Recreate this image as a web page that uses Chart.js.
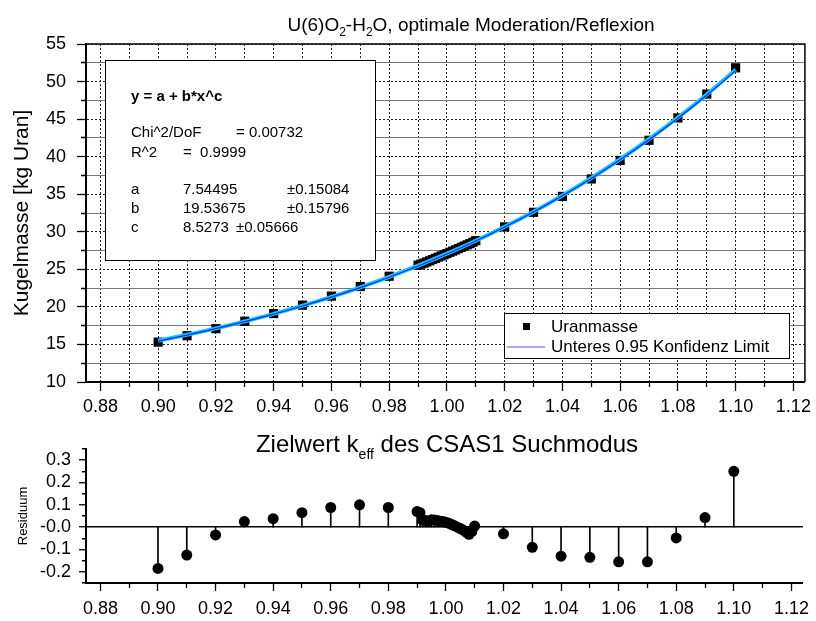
<!DOCTYPE html>
<html>
<head>
<meta charset="utf-8">
<script src="https://cdn.jsdelivr.net/npm/chart.js@4.4.0/dist/chart.umd.min.js"></script>
<style>
  html, body { margin: 0; padding: 0; background: #fff; }
  #wrap { position: relative; width: 816px; height: 621px; overflow: hidden; }
  #massChart { position: absolute; left: 0; top: 0; }
  #residChart { position: absolute; left: 0; top: 415px; }
</style>
</head>
<body>
<div id="wrap">
  <canvas id="massChart" width="816" height="415"></canvas>
  <canvas id="residChart" width="816" height="206"></canvas>
</div>
<script>
// k_eff target values of the CSAS1 search mode
const kEff = [0.90, 0.91, 0.92, 0.93, 0.94, 0.95, 0.96, 0.97, 0.98,
    0.990, 0.991, 0.992, 0.993, 0.994, 0.995, 0.996, 0.997, 0.998, 0.999, 1.000,
    1.001, 1.002, 1.003, 1.004, 1.005, 1.006, 1.007, 1.008, 1.009, 1.010,
    1.02, 1.03, 1.04, 1.05, 1.06, 1.07, 1.08, 1.09, 1.10];
// sphere mass [kg U]
const uranMass = [15.31, 16.16, 17.10, 18.09, 19.11, 20.23, 21.43, 22.71, 24.08,
    25.55, 25.70, 25.82, 25.98, 26.13, 26.30, 26.46, 26.62, 26.78, 26.94, 27.10,
    27.27, 27.43, 27.59, 27.76, 27.93, 28.09, 28.26, 28.42, 28.61, 28.82,
    30.65, 32.59, 34.71, 37.03, 39.50, 42.18, 45.16, 48.33, 51.83];
// residuals of the fit
const residuum = [-0.185, -0.125, -0.035, 0.025, 0.038, 0.065, 0.088, 0.100, 0.088,
    0.070, 0.065, 0.030, 0.030, 0.028, 0.033, 0.032, 0.030, 0.027, 0.025, 0.022,
    0.018, 0.012, 0.006, 0.000, -0.006, -0.013, -0.022, -0.032, -0.020, 0.005,
    -0.030, -0.090, -0.130, -0.135, -0.155, -0.155, -0.048, 0.043, 0.250];

// fit curve and lower 0.95 confidence limit
const fitX = [0.90, 0.91, 0.92, 0.93, 0.94, 0.95, 0.96, 0.97, 0.98, 0.99, 1.00,
    1.01, 1.02, 1.03, 1.04, 1.05, 1.06, 1.07, 1.08, 1.09, 1.10];
const fitMass = [15.50, 16.29, 17.14, 18.07, 19.07, 20.16, 21.34, 22.61, 23.99, 25.48, 27.08,
    28.81, 30.68, 32.68, 34.84, 37.16, 39.66, 42.33, 45.21, 48.28, 51.58];
const lowerLimit = [15.45, 16.24, 17.10, 18.03, 19.03, 20.12, 21.30, 22.57, 23.95, 25.44, 27.04,
    28.77, 30.63, 32.63, 34.79, 37.10, 39.59, 42.26, 45.12, 48.18, 51.45];

const FONT = "'Liberation Sans', Arial, sans-serif";
Chart.defaults.font.family = FONT;
Chart.defaults.color = '#000';

const even = v => Math.round(v * 100) % 2 === 0;

// draws text with subscript parts, centered at cx
function drawRich(ctx, parts, cx, y, size, subSize, subDrop) {
    let w = 0;
    parts.forEach(p => {
        ctx.font = (p.sub ? subSize : size) + 'px ' + FONT;
        w += ctx.measureText(p.t).width;
    });
    let x = cx - w / 2;
    ctx.textAlign = 'left';
    ctx.textBaseline = 'alphabetic';
    parts.forEach(p => {
        ctx.font = (p.sub ? subSize : size) + 'px ' + FONT;
        ctx.fillText(p.t, x, p.sub ? y + subDrop : y);
        x += ctx.measureText(p.t).width;
    });
}

const massDecor = {
    id: 'massDecor',
    afterDraw(chart) {
        const { ctx, chartArea: a } = chart;
        ctx.save();
        // frame
        ctx.strokeStyle = '#000';
        ctx.lineWidth = 1.5;
        ctx.beginPath();
        ctx.moveTo(a.left, a.top);
        ctx.lineTo(a.right, a.top);
        ctx.lineTo(a.right, a.bottom);
        ctx.stroke();

        ctx.fillStyle = '#000';
        drawRich(ctx, [{ t: 'U(6)O' }, { t: '2', sub: true }, { t: '-H' }, { t: '2', sub: true },
            { t: 'O, optimale Moderation/Reflexion' }], 471, 31, 19, 12, 5);

        // fit info box
        ctx.fillStyle = '#fff';
        ctx.fillRect(105, 60, 270, 200);
        ctx.lineWidth = 1;
        ctx.strokeStyle = '#000';
        ctx.strokeRect(105.5, 60.5, 270, 200);
        ctx.fillStyle = '#000';
        ctx.textAlign = 'left';
        ctx.textBaseline = 'alphabetic';
        ctx.font = 'bold 15px ' + FONT;
        ctx.fillText('y = a + b*x^c', 131, 101);
        ctx.font = '15px ' + FONT;
        ctx.fillText('Chi^2/DoF', 131, 137);
        ctx.fillText('= 0.00732', 236, 137);
        ctx.fillText('R^2', 131, 157);
        ctx.fillText('=  0.9999', 183, 157);
        ctx.fillText('a', 131, 194);
        ctx.fillText('7.54495', 183, 194);
        ctx.fillText('\u00b10.15084', 287, 194);
        ctx.fillText('b', 131, 213);
        ctx.fillText('19.53675', 183, 213);
        ctx.fillText('\u00b10.15796', 287, 213);
        ctx.fillText('c', 131, 232);
        ctx.fillText('8.5273', 183, 232);
        ctx.fillText('\u00b10.05666', 236, 232);

        // legend
        ctx.fillStyle = '#fff';
        ctx.fillRect(504, 313, 285, 45);
        ctx.strokeRect(504.5, 313.5, 285, 45);
        ctx.fillStyle = '#000';
        ctx.fillRect(523, 323, 7, 7);
        ctx.strokeStyle = '#4b4bff';
        ctx.lineWidth = 1.2;
        ctx.beginPath();
        ctx.moveTo(507, 347);
        ctx.lineTo(545, 347);
        ctx.stroke();
        ctx.font = '17px ' + FONT;
        ctx.textBaseline = 'middle';
        ctx.fillText('Uranmasse', 551, 327);
        ctx.fillText('Unteres 0.95 Konfidenz Limit', 551, 347);
        ctx.restore();
    }
};

new Chart(document.getElementById('massChart'), {
    type: 'scatter',
    data: {
        datasets: [{
            label: 'Unteres 0.95 Konfidenz Limit',
            data: fitX.map((x, i) => ({ x, y: lowerLimit[i] })),
            showLine: true,
            borderColor: '#0a2cff',
            borderWidth: 1.2,
            pointRadius: 0,
            cubicInterpolationMode: 'monotone'
        }, {
            label: 'Fit',
            data: fitX.map((x, i) => ({ x, y: fitMass[i] })),
            showLine: true,
            borderColor: '#18c4ff',
            borderWidth: 4,
            pointRadius: 0,
            cubicInterpolationMode: 'monotone'
        }, {
            label: 'Uranmasse',
            data: kEff.map((x, i) => ({ x, y: uranMass[i] })),
            pointStyle: 'rect',
            pointRadius: 6.5,
            backgroundColor: '#000',
            borderColor: '#000',
            borderWidth: 0
        }]
    },
    options: {
        responsive: false,
        animation: false,
        layout: { padding: { left: 0, right: 5, top: 44, bottom: 0 } },
        plugins: { legend: { display: false }, tooltip: { enabled: false } },
        scales: {
            x: {
                type: 'linear',
                min: 0.875,
                max: 1.124,
                afterFit: s => { s.height = 33; },
                ticks: {
                    stepSize: 0.01,
                    includeBounds: false,
                    autoSkip: false,
                    maxRotation: 0,
                    padding: 5,
                    font: { size: 18 },
                    callback: v => even(v) ? v.toFixed(2) : ''
                },
                grid: {
                    color: '#222',
                    lineWidth: 1,
                    tickLength: 9,
                    tickColor: '#000',
                    tickWidth: 1.3,
                    tickBorderDash: c => (c.tick && even(c.tick.value)) ? [] : [4, 100]
                },
                border: { color: '#000', width: 2, dash: [2, 2] }
            },
            y: {
                min: 10,
                max: 55,
                afterFit: s => { s.width = 86; },
                title: {
                    display: true,
                    text: 'Kugelmasse [kg Uran]',
                    font: { size: 21 },
                    padding: { top: 10, bottom: 0 }
                },
                ticks: {
                    stepSize: 2.5,
                    autoSkip: false,
                    padding: 11,
                    font: { size: 18 },
                    callback: v => v % 5 === 0 ? v : ''
                },
                grid: {
                    color: c => (c.tick && c.tick.value % 5 === 0) ? '#222' : '#777',
                    lineWidth: 1,
                    tickLength: 9,
                    tickColor: '#000',
                    tickWidth: 1.3,
                    tickBorderDash: c => (c.tick && c.tick.value % 5 === 0) ? [] : [0, 4, 4, 100]
                },
                border: {
                    color: '#000',
                    width: 2,
                    dash: c => (c.tick && c.tick.value % 5 === 0) ? [2, 2] : []
                }
            }
        }
    },
    plugins: [massDecor]
});

const residDecor = {
    id: 'residDecor',
    afterDraw(chart) {
        const { ctx } = chart;
        ctx.save();
        ctx.fillStyle = '#000';
        drawRich(ctx, [{ t: 'Zielwert k' }, { t: 'eff', sub: true },
            { t: ' des CSAS1 Suchmodus' }], 447, 37, 24, 14, 7);
        ctx.restore();
    }
};

new Chart(document.getElementById('residChart'), {
    type: 'scatter',
    data: {
        datasets: [{
            label: 'Residuum',
            data: kEff.map((x, i) => ({ x, y: residuum[i] })),
            pointRadius: 5.5,
            backgroundColor: '#000',
            borderColor: '#000',
            borderWidth: 0
        }, {
            type: 'bar',
            label: 'Stiel',
            data: kEff.map((x, i) => ({ x, y: residuum[i] })),
            backgroundColor: '#000',
            barThickness: 1,
            grouped: false
        }]
    },
    options: {
        responsive: false,
        animation: false,
        layout: { padding: { left: 0, right: 5, top: 34, bottom: 0 } },
        plugins: { legend: { display: false }, tooltip: { enabled: false } },
        scales: {
            x: {
                type: 'linear',
                offset: false,
                min: 0.875,
                max: 1.124,
                afterFit: s => { s.height = 38; },
                ticks: {
                    stepSize: 0.01,
                    includeBounds: false,
                    autoSkip: false,
                    maxRotation: 0,
                    padding: 7,
                    font: { size: 18 },
                    callback: v => even(v) ? v.toFixed(2) : ''
                },
                grid: {
                    drawOnChartArea: false,
                    offset: false,
                    tickLength: 8,
                    tickColor: '#000',
                    tickWidth: 1.3,
                    tickBorderDash: c => (c.tick && even(c.tick.value)) ? [] : [4, 100]
                },
                border: { color: '#000', width: 2 }
            },
            y: {
                min: -0.25,
                max: 0.35,
                afterFit: s => { s.width = 86; },
                title: {
                    display: true,
                    text: 'Residuum',
                    font: { size: 13 },
                    padding: { top: 16, bottom: 0 }
                },
                ticks: {
                    stepSize: 0.05,
                    autoSkip: false,
                    padding: 8,
                    font: { size: 18 },
                    callback: v => Math.round(v * 100) % 10 === 0 ? v.toFixed(1) : ''
                },
                grid: {
                    color: c => (c.tick && Math.abs(c.tick.value) < 1e-9) ? '#000' : 'rgba(0,0,0,0)',
                    lineWidth: 1.5,
                    tickLength: 7,
                    tickColor: '#000',
                    tickWidth: 1.3,
                    tickBorderDash: c => (c.tick && Math.round(c.tick.value * 100) % 10 === 0) ? [] : [0, 3, 4, 100]
                },
                border: { color: '#000', width: 2 }
            }
        }
    },
    plugins: [residDecor]
});
</script>
</body>
</html>
